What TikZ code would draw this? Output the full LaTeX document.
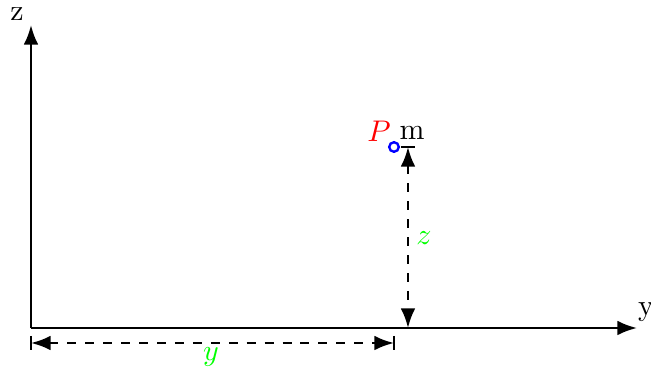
\documentclass[tikz,border=0pt]{standalone}
\usepackage{tikz}
\usetikzlibrary{positioning,arrows.meta}

\begin{document}
\begin{tikzpicture}[x=0.01176cm, y=0.01176cm, >=Latex,
  axis/.style={thick, ->},
  dimline/.style={thick, dashed, <->},
  dimbar/.style={thick},
  pointmark/.style={circle, draw=blue, thick, inner sep=0pt, minimum size=3.2pt}]
\useasboundingbox (0,0) rectangle (651,370);
% axes
\coordinate (O) at (31,42);
\coordinate (yend) at (637,42);
\coordinate (zend) at (31,345);
\draw[axis] (O) -- (yend);
\draw[axis] (O) -- (zend);
\node (zlabel) at (17,356) {z};
\node (ylabel) at (646,58) {y};
% the point
\node[pointmark] (P) at (394,223) {};
\node[text=red] (Plabel) at (379,239) {$P$};
\node (mlabel) at (412,237) {m};
% distances
\coordinate (ztop) at (408,223);
\coordinate (zfoot) at (408,42);
\draw[dimline] (ztop) -- (zfoot);
\draw[dimbar] (ztop) ++(-7,0) -- ++(14,0);
\node[text=green] (zdist) at (424,132) {$z$};
\coordinate (ystart) at (31,27);
\coordinate (yfoot) at (394,27);
\draw[dimline] (ystart) -- (yfoot);
\draw[dimbar] (ystart) ++(0,7) -- ++(0,-14);
\draw[dimbar] (yfoot) ++(0,7) -- ++(0,-14);
\node[text=green] (ydist) at (211,13) {$y$};
\end{tikzpicture}
\end{document}
